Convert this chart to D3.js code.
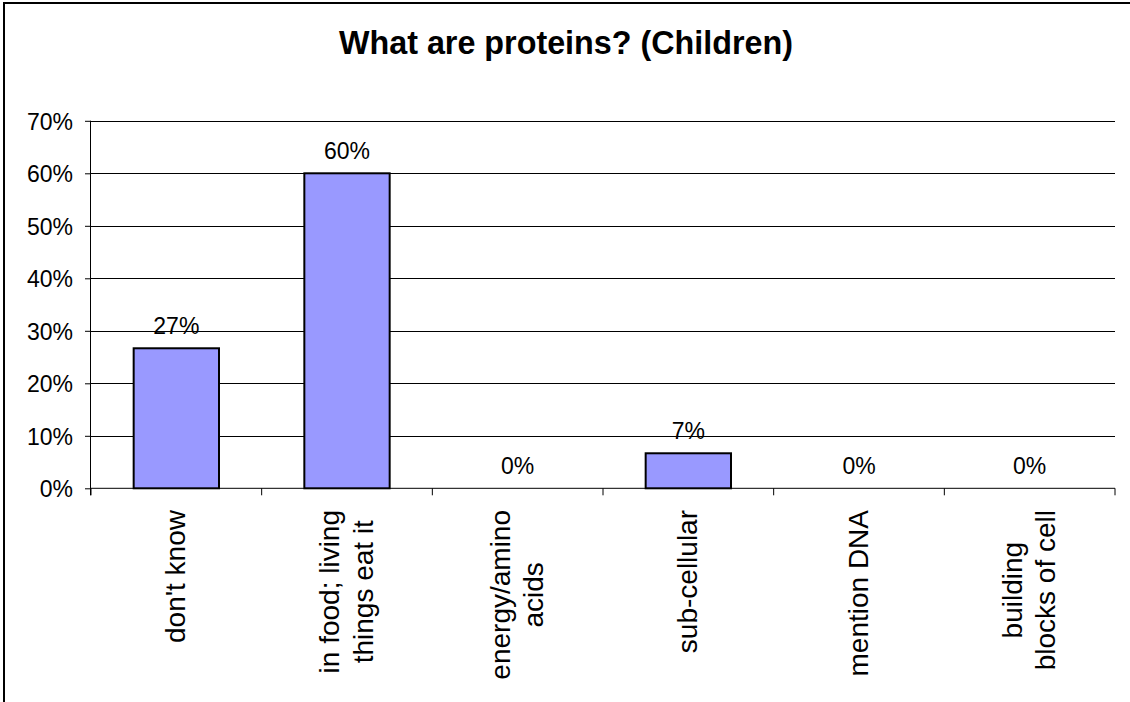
<!DOCTYPE html>
<html>
<head>
<meta charset="utf-8">
<script src="https://cdn.jsdelivr.net/npm/d3@7"></script>
<style>
  html, body { margin: 0; padding: 0; background: #fff; }
  svg { display: block; }
  text { font-family: "Liberation Sans", Arial, sans-serif; fill: #000; }
</style>
</head>
<body>
<svg id="chart" width="1130" height="702"></svg>
<script>
const title = "What are proteins? (Children)";
const categories = [
  ["don't know"],
  ["in food; living", "things eat it"],
  ["energy/amino", "acids"],
  ["sub-cellular"],
  ["mention DNA"],
  ["building", "blocks of cell"]
];
const values = [0.2667, 0.60, 0.0, 0.0667, 0.0, 0.0];
const yTicks = [0, 0.1, 0.2, 0.3, 0.4, 0.5, 0.6, 0.7];

(function () {
const svg = d3.select("#chart");
const W = 1130, H = 702;
const pLeft = 91, pRight = 1115, pTop = 120.8, pBottom = 488.3;

// outer border (right/bottom run off the picture)
svg.append("rect")
  .attr("x", 4).attr("y", 3).attr("width", W + 20).attr("height", H + 20)
  .attr("fill", "#fff").attr("stroke", "#000").attr("stroke-width", 2);

svg.append("text")
  .attr("x", 566).attr("y", 54)
  .attr("text-anchor", "middle")
  .attr("font-size", 32.3).attr("font-weight", "bold")
  .text(title);

const x = d3.scaleBand()
  .domain(d3.range(categories.length))
  .range([pLeft, pRight])
  .paddingInner(0.5).paddingOuter(0.25);
const step = x.step();

const y = d3.scaleLinear().domain([0, 0.7]).range([pBottom, pTop]);

// gridlines
svg.append("g").selectAll("line").data(yTicks.filter(t => t > 0)).join("line")
  .attr("x1", pLeft).attr("x2", pRight)
  .attr("y1", d => Math.round(y(d)) + 0.5).attr("y2", d => Math.round(y(d)) + 0.5)
  .attr("stroke", "#000").attr("stroke-width", 1);

// y axis
const yAxis = d3.axisLeft(y).tickValues(yTicks).tickSize(6).tickPadding(12)
  .tickFormat(d3.format(".0%"));
const gy = svg.append("g").attr("transform", `translate(${pLeft},0)`).call(yAxis);
gy.select(".domain").attr("stroke", "#000").attr("d", `M-0.5,${pBottom + 7}V${pTop}`);
gy.selectAll(".tick line").attr("stroke", "#000");
gy.selectAll(".tick text")
  .attr("font-size", 23).attr("font-family", "Liberation Sans, Arial, sans-serif")
  .attr("fill", "#000").attr("dy", "0.36em");

// x axis line and boundary ticks
svg.append("line").attr("x1", pLeft).attr("x2", pRight)
  .attr("y1", pBottom).attr("y2", pBottom).attr("stroke", "#000");
svg.append("g").selectAll("line").data(d3.range(categories.length + 1)).join("line")
  .attr("x1", i => pLeft + i * step).attr("x2", i => pLeft + i * step)
  .attr("y1", pBottom).attr("y2", pBottom + 7)
  .attr("stroke", "#000");

const data = values.map((v, i) => ({ v, i }));

// bars
svg.append("g").selectAll("rect").data(data.filter(d => d.v > 0)).join("rect")
  .attr("x", d => x(d.i))
  .attr("y", d => y(d.v))
  .attr("width", x.bandwidth())
  .attr("height", d => pBottom - y(d.v))
  .attr("fill", "#9999FF").attr("stroke", "#000").attr("stroke-width", 2);

// value labels
svg.append("g").selectAll("text").data(data).join("text")
  .attr("x", d => x(d.i) + x.bandwidth() / 2)
  .attr("y", d => y(d.v) - 14.5)
  .attr("text-anchor", "middle")
  .attr("font-size", 23)
  .text(d => Math.round(d.v * 100) + "%");

// category labels (rotated)
const fs = 28, lh = 33.7, yTop = 510;
categories.forEach((lines, i) => {
  const cx = x(i) + x.bandwidth() / 2;
  const g = svg.append("g");
  const texts = lines.map(ln => g.append("text")
    .attr("font-size", fs).attr("text-anchor", "middle").text(ln));
  const maxLen = d3.max(texts, t => t.node().getComputedTextLength());
  g.attr("transform", `translate(${cx},${yTop + maxLen / 2}) rotate(-90)`);
  texts.forEach((t, j) => {
    t.attr("x", 0).attr("y", (j - (lines.length - 1) / 2) * lh + 0.31 * fs);
  });
});
})();
</script>
</body>
</html>
